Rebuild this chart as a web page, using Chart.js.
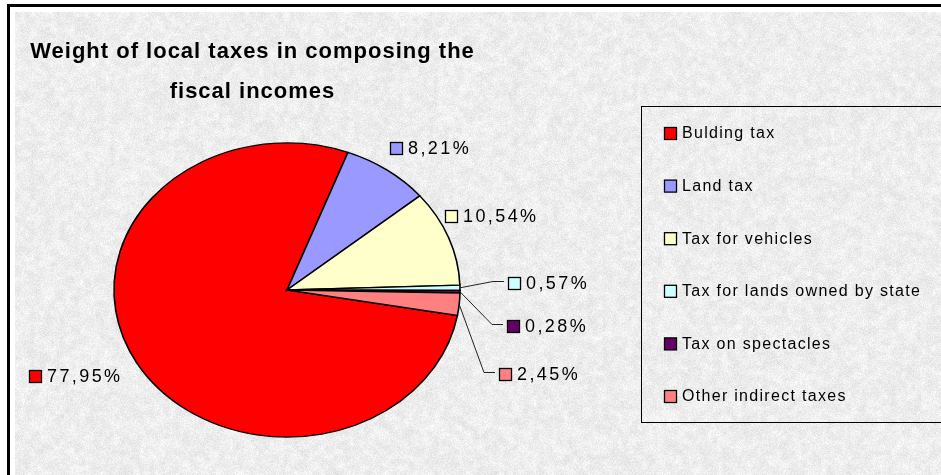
<!DOCTYPE html>
<html>
<head>
<meta charset="utf-8">
<script src="https://cdn.jsdelivr.net/npm/chart.js@4.4.1/dist/chart.umd.min.js"></script>
<style>
html,body{margin:0;padding:0;background:#fff;overflow:hidden}
#wrap{position:relative;width:941px;height:475px;overflow:hidden}
#frame{position:absolute;left:7px;top:4px;width:980px;height:520px;border-left:3px solid #000;border-top:3px solid #000}
#grain{position:absolute;left:15px;top:12px}
#chart{position:absolute;left:0;top:0}
</style>
</head>
<body>
<div id="wrap">
  <div id="frame"></div>
  <canvas id="grain" width="926" height="463"></canvas>
  <canvas id="chart" width="941" height="475"></canvas>
</div>
<script>
// tax categories and their share of fiscal incomes (%)
const labels = ['Bulding tax', 'Land tax', 'Tax for vehicles', 'Tax for lands owned by state', 'Tax on spectacles', 'Other indirect taxes'];
const shares = [77.95, 8.21, 10.54, 0.57, 0.28, 2.45];
const colors = ['#FF0000', '#9999FF', '#FFFFCC', '#CCFFFF', '#660066', '#FF8080'];
const titleLines = ['Weight of local taxes in composing the', 'fiscal incomes'];

const FONT = '"Liberation Sans", Arial, sans-serif';
const SQUASH = 0.85;   // pie is drawn as a flattened oval

// granite-like backdrop
function paintGrain(){
  const c = document.getElementById('grain');
  const g = c.getContext('2d');
  const w = c.width, h = c.height;
  let seed = 97531;
  const rnd = () => { seed = (seed * 1664525 + 1013904223) >>> 0; return seed / 4294967296; };

  const coarse = document.createElement('canvas');
  coarse.width = Math.ceil(w / 5); coarse.height = Math.ceil(h / 5);
  const cg = coarse.getContext('2d');
  const ci = cg.createImageData(coarse.width, coarse.height);
  for(let i = 0; i < coarse.width * coarse.height; i++){
    const v = 228 + rnd() * 27;
    ci.data[i*4] = ci.data[i*4+1] = ci.data[i*4+2] = v; ci.data[i*4+3] = 255;
  }
  cg.putImageData(ci, 0, 0);

  const fine = document.createElement('canvas');
  fine.width = w; fine.height = h;
  const fg = fine.getContext('2d');
  const fi = fg.createImageData(w, h);
  for(let i = 0; i < w * h; i++){
    const v = 212 + rnd() * 43;
    fi.data[i*4] = fi.data[i*4+1] = fi.data[i*4+2] = v; fi.data[i*4+3] = 255;
  }
  fg.putImageData(fi, 0, 0);

  g.imageSmoothingEnabled = true;
  g.drawImage(coarse, 0, 0, w, h);
  g.globalAlpha = 0.45;
  g.filter = 'blur(0.6px)';
  g.drawImage(fine, 0, 0);
  g.globalAlpha = 1;
  g.filter = 'none';
}
paintGrain();

const pct = v => v.toFixed(2).replace('.', ',') + '%';

function spacedText(ctx, txt, x, y, spacing, align){
  ctx.letterSpacing = spacing + 'px';
  const w = ctx.measureText(txt).width - spacing;
  let sx = x;
  if(align === 'center') sx = x - w / 2;
  else if(align === 'right') sx = x - w;
  ctx.textAlign = 'left';
  ctx.fillText(txt, sx, y);
  ctx.letterSpacing = '0px';
  return w;
}

function keyBox(ctx, x, cy, color){
  ctx.fillStyle = color;
  ctx.fillRect(x + 0.5, cy - 5.5, 12, 12);
  ctx.strokeStyle = '#000';
  ctx.lineWidth = 1.3;
  ctx.strokeRect(x + 0.5, cy - 5.5, 12, 12);
}

// flatten the pie vertically around its centre
const ovalPie = {
  id: 'ovalPie',
  beforeDatasetsDraw(chart){
    const arc = chart.getDatasetMeta(0).data[0];
    const ctx = chart.ctx;
    ctx.save();
    ctx.translate(0, arc.y);
    ctx.scale(1, SQUASH);
    ctx.translate(0, -arc.y);
  },
  afterDatasetsDraw(chart){
    chart.ctx.restore();
  }
};

// label spots: left edge of the key square and its vertical centre
const labelSpots = [[29, 376], [390, 148], [445, 216], [508, 283], [507, 326], [499, 374]];
const leadered = [3, 4, 5];

const decorations = {
  id: 'decorations',
  afterDraw(chart){
    const ctx = chart.ctx;
    const arcs = chart.getDatasetMeta(0).data;

    // title
    ctx.fillStyle = '#000';
    ctx.font = 'bold 22px ' + FONT;
    ctx.textBaseline = 'alphabetic';
    spacedText(ctx, titleLines[0], 252, 58, 1, 'center');
    spacedText(ctx, titleLines[1], 252, 98, 1, 'center');

    // leader lines for the thin slices
    ctx.strokeStyle = '#222';
    ctx.lineWidth = 1;
    leadered.forEach(i => {
      const a = arcs[i];
      const mid = (a.startAngle + a.endAngle) / 2;
      const ex = a.x + Math.cos(mid) * a.outerRadius;
      const ey = a.y + Math.sin(mid) * a.outerRadius * SQUASH;
      const [sx, cy] = labelSpots[i];
      ctx.beginPath();
      ctx.moveTo(ex, ey);
      ctx.lineTo(sx - 15, cy - 1.5);
      ctx.lineTo(sx - 4, cy - 1.5);
      ctx.stroke();
    });

    // data labels
    ctx.font = '18px ' + FONT;
    ctx.textBaseline = 'middle';
    shares.forEach((v, i) => {
      const [sx, cy] = labelSpots[i];
      keyBox(ctx, sx, cy, colors[i]);
      ctx.fillStyle = '#000';
      spacedText(ctx, pct(v), sx + 18, cy + 1, 2.4, 'left');
    });

    // legend
    ctx.strokeStyle = '#000';
    ctx.lineWidth = 1;
    ctx.strokeRect(641.5, 106.5, 320, 316);
    ctx.font = '16px ' + FONT;
    labels.forEach((lab, i) => {
      const cy = 133 + i * 52.6;
      keyBox(ctx, 664, cy, colors[i]);
      ctx.fillStyle = '#000';
      spacedText(ctx, lab, 682, cy + 1, 1.3, 'left');
    });
  }
};

new Chart(document.getElementById('chart'), {
  type: 'pie',
  data: {
    labels: labels,
    datasets: [{
      data: shares,
      backgroundColor: colors,
      borderColor: '#000',
      borderWidth: 1.6,
      borderJoinStyle: 'miter'
    }]
  },
  options: {
    responsive: false,
    animation: false,
    devicePixelRatio: 1,
    rotation: 100,
    radius: 173,
    layout: { padding: { left: 114, right: 481, top: 117, bottom: 12 } },
    plugins: {
      legend: { display: false },
      title: { display: false },
      tooltip: { enabled: false }
    }
  },
  plugins: [ovalPie, decorations]
});
</script>
</body>
</html>
